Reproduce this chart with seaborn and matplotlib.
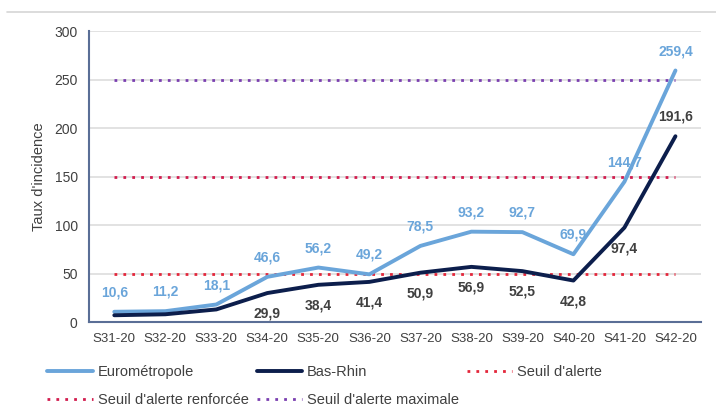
"""
Taux d'incidence hebdomadaire, Eurométropole vs Bas-Rhin, avec seuils d'alerte.
"""
import numpy as np
import pandas as pd
import matplotlib
matplotlib.use('Agg')
import matplotlib.pyplot as plt
from matplotlib.lines import Line2D
import seaborn as sns

semaines = ['S31-20', 'S32-20', 'S33-20', 'S34-20', 'S35-20', 'S36-20',
            'S37-20', 'S38-20', 'S39-20', 'S40-20', 'S41-20', 'S42-20']
eurometropole = [10.6, 11.2, 18.1, 46.6, 56.2, 49.2, 78.5, 93.2, 92.7, 69.9, 144.7, 259.4]
bas_rhin = [7.0, 8.0, 13.0, 29.9, 38.4, 41.4, 50.9, 56.9, 52.5, 42.8, 97.4, 191.6]
# points labelled for Bas-Rhin (first three weeks carry no label)
bas_rhin_labels = [None, None, None, '29,9', '38,4', '41,4', '50,9', '56,9', '52,5', '42,8', '97,4', '191,6']
seuils = {"Seuil d'alerte": 50, "Seuil d'alerte renforcée": 150, "Seuil d'alerte maximale": 250}

COL_EURO = '#6AA5DA'
COL_BR = '#0C1E4C'
COL_SEUILS = {"Seuil d'alerte": '#E3263A', "Seuil d'alerte renforcée": '#D21C4E',
              "Seuil d'alerte maximale": '#7A3FB0'}
TXT = '#404040'
DOTS = (0, (1, 2.2))

sns.set_style('white')
plt.rcParams['font.family'] = ['Liberation Sans', 'DejaVu Sans']

data = pd.DataFrame({
    'semaine': semaines * 2,
    'taux': eurometropole + bas_rhin,
    'zone': ['Eurométropole'] * len(semaines) + ['Bas-Rhin'] * len(semaines),
})

fig = plt.figure(figsize=(7.16, 4.15), dpi=100)
ax = fig.add_axes([0.124, 0.224, 0.855, 0.701])

for y in range(50, 301, 50):
    ax.axhline(y, color='#DDDDDD', lw=1.2, zorder=0)

for name, val in seuils.items():
    ax.hlines(val, 0, len(semaines) - 1, colors=COL_SEUILS[name], linestyles=DOTS,
              lw=2.0, zorder=1)

sns.lineplot(data=data, x='semaine', y='taux', hue='zone',
             palette={'Eurométropole': COL_EURO, 'Bas-Rhin': COL_BR},
             lw=2.8, ax=ax, zorder=3, sort=False, legend=False)

x = np.arange(len(semaines))
for i, v in enumerate(eurometropole):
    ax.annotate('{:.1f}'.format(v).replace('.', ','), (x[i], v), xytext=(0, 14),
                textcoords='offset points', ha='center', va='center',
                color=COL_EURO, fontsize=10, fontweight='bold')
for i, (v, lab) in enumerate(zip(bas_rhin, bas_rhin_labels)):
    if lab is None:
        continue
    dy = 14 if i == len(semaines) - 1 else -15
    ax.annotate(lab, (x[i], v), xytext=(0, dy), textcoords='offset points',
                ha='center', va='center', color=TXT, fontsize=10, fontweight='bold')

ax.set_xlim(-0.5, len(semaines) - 0.5)
ax.set_ylim(0, 300)
ax.set_yticks(range(0, 301, 50))
ax.set_xticks(x)
ax.set_xticks(np.arange(-0.5, len(semaines), 1), minor=True)
ax.tick_params(axis='x', which='major', length=0, pad=8, labelsize=9.5, labelcolor=TXT)
ax.tick_params(axis='x', which='minor', length=5, width=1.2, color='#5A6E96', direction='out')
ax.tick_params(axis='y', length=0, pad=8, labelsize=10, labelcolor=TXT)
ax.set_xlabel('')
ax.set_ylabel("Taux d'incidence", color=TXT, fontsize=10.5, labelpad=6)

for side in ['top', 'right']:
    ax.spines[side].set_visible(False)
for side in ['left', 'bottom']:
    ax.spines[side].set_color('#5A6E96')
    ax.spines[side].set_linewidth(1.5)

order = ['Eurométropole', 'Bas-Rhin', "Seuil d'alerte",
         "Seuil d'alerte renforcée", "Seuil d'alerte maximale"]
leg_handles = [Line2D([], [], color=COL_EURO, lw=2.8), Line2D([], [], color=COL_BR, lw=2.8)]
leg_handles += [Line2D([], [], color=COL_SEUILS[n], lw=2.0, linestyle=DOTS) for n in order[2:]]
# matplotlib fills legends column by column; reorder so entries read row by row
ncol = 3
rows = [order[i:i + ncol] for i in range(0, len(order), ncol)]
col_order = []
col_handles = []
for c in range(ncol):
    for r in rows:
        if c < len(r):
            col_order.append(r[c])
            col_handles.append(leg_handles[order.index(r[c])])
fig.legend(col_handles, col_order, loc='upper left', bbox_to_anchor=(0.058, 0.135),
           ncol=ncol, frameon=False, fontsize=10.5, handlelength=3.1, handletextpad=0.35,
           columnspacing=0.55, labelspacing=0.95, labelcolor=TXT, borderaxespad=0)

fig.add_artist(Line2D([0.01, 1.0], [0.972, 0.972], color='#D5D5D5', lw=1.2,
                      transform=fig.transFigure))

fig.savefig('out.png', dpi=100)
